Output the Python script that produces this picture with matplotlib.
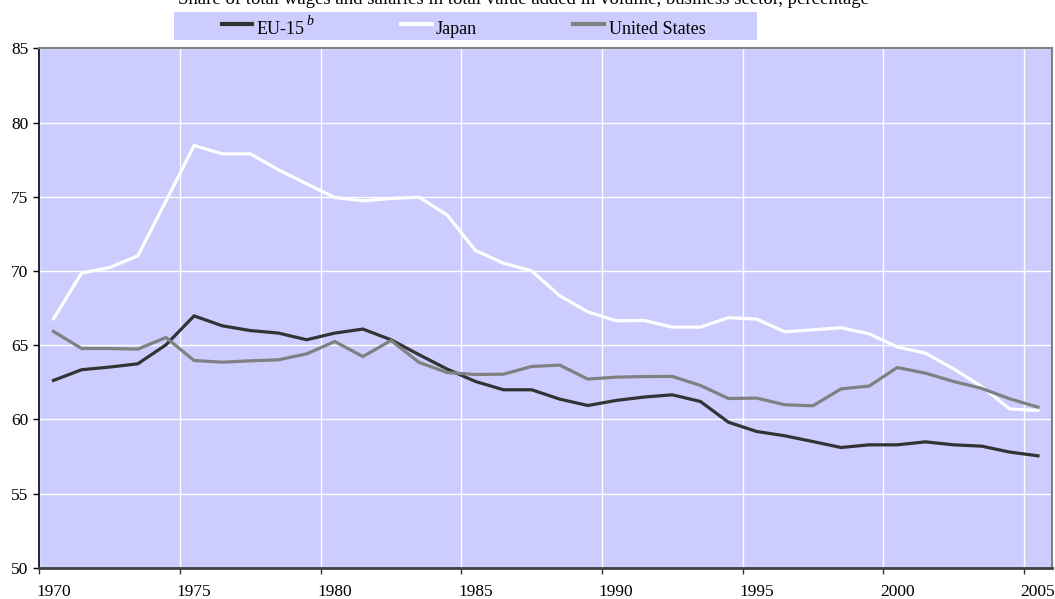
import matplotlib
matplotlib.use("Agg")
import matplotlib.pyplot as plt
from matplotlib.lines import Line2D
from matplotlib.patches import Rectangle

years = list(range(1970, 2006))
eu15 = [62.62, 63.34, 63.52, 63.74, 65.02, 66.97, 66.30, 65.98, 65.81, 65.36,
        65.81, 66.08, 65.36, 64.35, 63.38, 62.55, 61.99, 61.99, 61.36, 60.93,
        61.27, 61.50, 61.65, 61.20, 59.80, 59.18, 58.89, 58.50, 58.10, 58.28,
        58.28, 58.48, 58.28, 58.19, 57.79, 57.54]
japan = [66.77, 69.85, 70.23, 71.02, 74.71, 78.45, 77.89, 77.89, 76.81, 75.87,
         74.95, 74.72, 74.88, 74.97, 73.76, 71.38, 70.52, 70.00, 68.32, 67.24,
         66.64, 66.66, 66.21, 66.21, 66.85, 66.75, 65.90, 66.03, 66.17, 65.76,
         64.87, 64.46, 63.40, 62.21, 60.69, 60.60]
usa = [65.92, 64.77, 64.77, 64.73, 65.51, 63.96, 63.85, 63.94, 64.01, 64.41,
       65.24, 64.23, 65.31, 63.83, 63.15, 63.02, 63.04, 63.56, 63.65, 62.71,
       62.84, 62.88, 62.89, 62.28, 61.40, 61.43, 60.98, 60.91, 62.05, 62.24,
       63.49, 63.11, 62.55, 62.08, 61.38, 60.82]
series_names = ["EU-15", "Japan", "United States"]
series_notes = ["b", "", ""]
tick_years = [1970, 1975, 1980, 1985, 1990, 1995, 2000, 2005]
title = "Share of total wages and salaries in total value added in volume, business sector, percentage"

plt.rcParams['font.family'] = ['Liberation Serif', 'DejaVu Serif']

W, H = 1055, 599
fig = plt.figure(figsize=(W / 100, H / 100), dpi=100)
fig.patch.set_facecolor('white')

left, right, top, bottom = 39.4, 1052, 48.3, 567.7
ax = fig.add_axes([left / W, (H - bottom) / H, (right - left) / W, (bottom - top) / H])
bg = '#CCCCFF'
ax.set_facecolor(bg)

xs = [y + 0.5 for y in years]
colors = ['#333333', '#FFFFFF', '#808080']
for data, c in zip([eu15, japan, usa], colors):
    ax.plot(xs, data, color=c, lw=2.3, solid_joinstyle='miter', zorder=3)

ax.set_xlim(1970, 2006)
ax.set_ylim(50, 85)
ax.set_yticks(range(50, 86, 5))
ax.set_xticks(tick_years)
ax.set_xticklabels([])
ax.set_xticks([y + 0.5 for y in tick_years], minor=True)
ax.set_xticklabels([str(y) for y in tick_years], minor=True)
ax.tick_params(axis='x', which='minor', length=0, pad=12, labelsize=12.5)
ax.tick_params(axis='x', which='major', length=4, width=1, color='#333333', direction='out')
ax.tick_params(axis='y', which='major', length=4.3, width=1, direction='out', labelsize=12.5, pad=3.5)
ax.grid(True, which='major', color='white', lw=1, zorder=1)
ax.set_axisbelow(True)

ax.spines['left'].set_color('black')
ax.spines['left'].set_linewidth(1.2)
ax.spines['bottom'].set_color('#404040')
ax.spines['bottom'].set_linewidth(2)
for s in ['top', 'right']:
    ax.spines[s].set_color('#808080')
    ax.spines[s].set_linewidth(1.5)

# Title (partially cut at top, as in the reference)
fig.text(523 / W, 1 - (-1) / H, title, ha='center', va='center', fontsize=13.5)

# Legend box drawn manually
def fx(px):
    return px / W

def fy(py):
    return 1 - py / H

fig.patches.append(Rectangle((fx(174), fy(39.5)), fx(757) - fx(174), (39.5 - 12) / H,
                             transform=fig.transFigure, facecolor=bg, edgecolor='none', zorder=1))
line_starts = [222, 401, 573]
line_ends = [252, 432, 604]
text_starts = [257, 436, 609]
ly = 24.0
renderer = fig.canvas.get_renderer()
for name, note, c, x0, x1, tx in zip(series_names, series_notes, colors, line_starts, line_ends, text_starts):
    fig.lines.append(Line2D([fx(x0), fx(x1)], [fy(ly), fy(ly)], transform=fig.transFigure,
                            color=c, lw=3, zorder=2))
    t = fig.text(fx(tx), fy(33.5), name, ha='left', va='baseline', fontsize=13, zorder=3)
    if note:
        bb = t.get_window_extent(renderer=renderer)
        fig.text(fx(bb.x1 + 1.5), fy(25), note, ha='left', va='baseline', fontsize=10,
                 style='italic', zorder=3)

fig.savefig('out.png', dpi=100, facecolor='white')
